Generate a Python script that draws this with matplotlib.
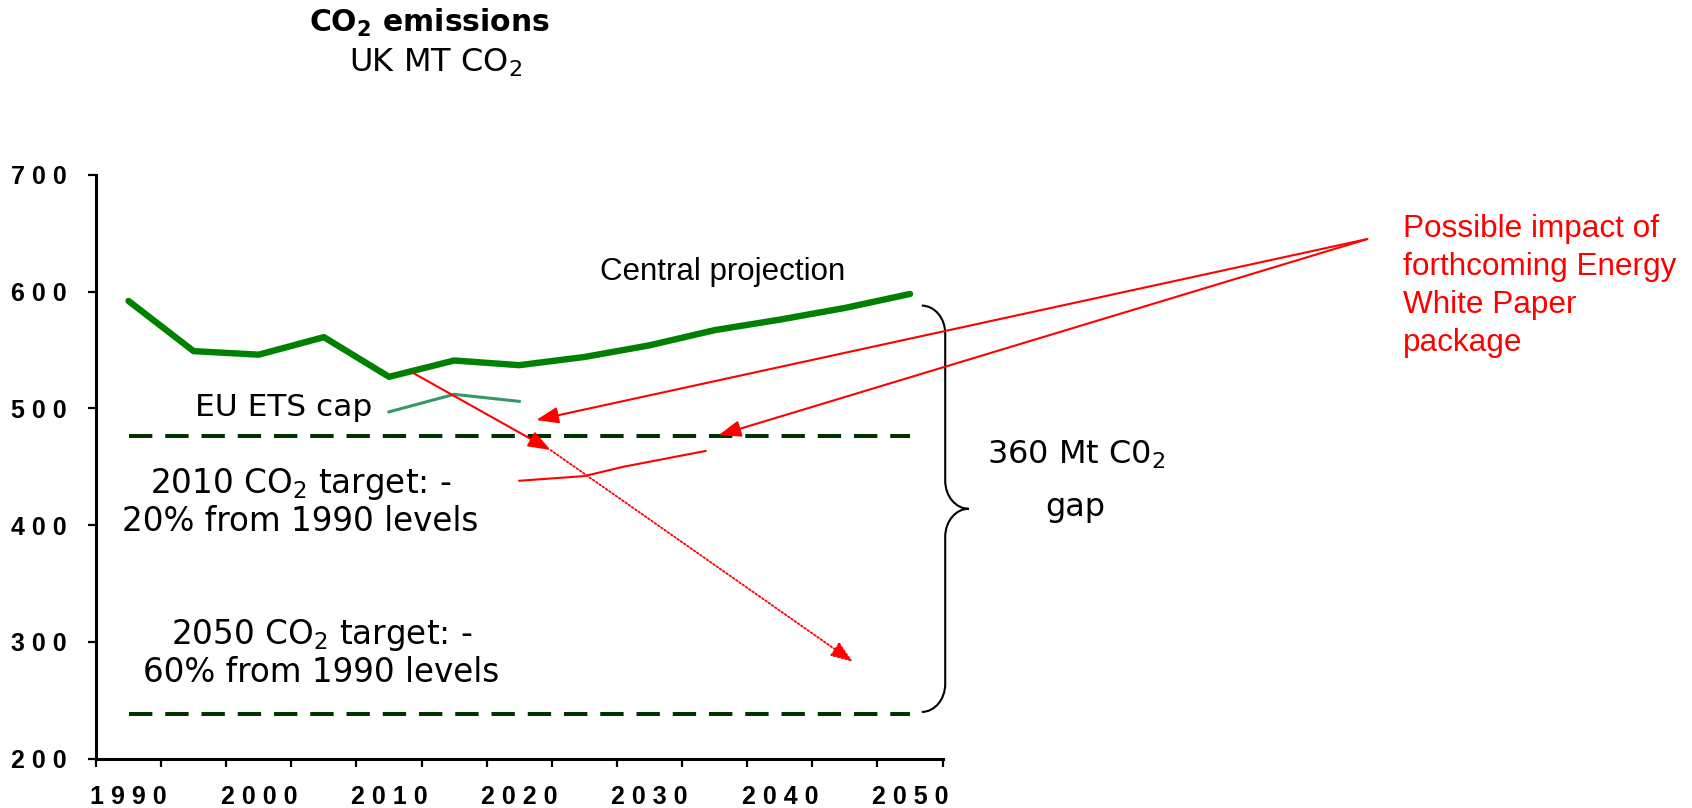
import matplotlib
matplotlib.use('Agg')
import matplotlib.pyplot as plt
import numpy as np
from matplotlib.path import Path
from matplotlib.patches import PathPatch

# UK CO2 emissions, Mt CO2
years = [1990, 1995, 2000, 2005, 2010, 2015, 2020, 2025, 2030, 2035, 2040, 2045, 2050]
central = [592, 549, 546, 561, 527, 541, 537, 544, 554, 567, 576, 586, 598]

ets_years = [2010, 2015, 2020]
ets_cap = [497, 512, 506]

target_2010 = 476
target_2050 = 238

# possible trajectory with the Energy White Paper package
impact_years = [2020, 2025, 2028, 2034.3]
impact_values = [438, 442, 450, 463.5]

x_labels = [1990, 2000, 2010, 2020, 2030, 2040, 2050]
y_ticks = [200, 300, 400, 500, 600, 700]

impact_text = ['Possible impact of', 'forthcoming Energy', 'White Paper', 'package']

RED = '#ff0000'
SANS = ['Liberation Sans', 'DejaVu Sans']


def brace(ax, x_tail, x_mid, x_tip, y_top, y_bot, r):
    # curly brace pointing right, built from quarter-ellipse beziers
    c = 0.552
    y_c = (y_top + y_bot) / 2
    dx = x_mid - x_tail
    dt = x_tip - x_mid
    verts = [
        (x_tail, y_top),
        (x_tail + c * dx, y_top), (x_mid, y_top - r + c * r), (x_mid, y_top - r),
        (x_mid, y_c + r),
        (x_mid, y_c + r - c * r), (x_tip - c * dt, y_c), (x_tip, y_c),
        (x_tip - c * dt, y_c), (x_mid, y_c - r + c * r), (x_mid, y_c - r),
        (x_mid, y_bot + r),
        (x_mid, y_bot + r - c * r), (x_tail + c * dx, y_bot), (x_tail, y_bot),
    ]
    codes = ([Path.MOVETO] + [Path.CURVE4] * 3 + [Path.LINETO] + [Path.CURVE4] * 6
             + [Path.LINETO] + [Path.CURVE4] * 3)
    patch = PathPatch(Path(verts, codes), fill=False, edgecolor='black', lw=1.5,
                      transform=ax.transData, clip_on=False)
    ax.add_patch(patch)


def spaced(v):
    # letter-spaced tick labels: "1 9 9 0"
    return ' '.join(str(v))


fig = plt.figure(figsize=(16.92, 8.08), dpi=100)
ax = fig.add_axes([0.0567, 0.0611, 0.5004, 0.7225])

ax.set_xlim(1987.5, 2052.5)
ax.set_ylim(200, 700)

# target lines
dash = (0, (5.8, 3.2))
ax.plot([years[0], years[-1]], [target_2010, target_2010], color='#003300', lw=2.9, ls=dash,
        dash_capstyle='butt', zorder=2)
ax.plot([years[0], years[-1]], [target_2050, target_2050], color='#003300', lw=2.9, ls=dash,
        dash_capstyle='butt', zorder=2)

ax.plot(years, central, color='#008000', lw=4.6, solid_capstyle='round', zorder=3)
ax.plot(ets_years, ets_cap, color='#339966', lw=2.2, zorder=3)
ax.plot(impact_years, impact_values, color=RED, lw=1.5, zorder=4)

head = '-|>,head_length=1.35,head_width=0.5'
ax.annotate('', xy=(2022.4, 464.3), xytext=(2011.9, 530),
            arrowprops=dict(arrowstyle=head, color=RED, lw=1.5, shrinkA=0, shrinkB=0),
            zorder=5)
ax.annotate('', xy=(2045.6, 283), xytext=(2022.4, 464.3),
            arrowprops=dict(arrowstyle=head, color=RED, lw=1.3, ls=(0, (1, 1.2)),
                            shrinkA=0, shrinkB=0),
            zorder=5)

impact_src = (2085.1, 645)
for tip in [(2021.3, 490), (2035.3, 477)]:
    ax.annotate('', xy=tip, xytext=impact_src, annotation_clip=False,
                arrowprops=dict(arrowstyle=head, color=RED, lw=1.5, shrinkA=0, shrinkB=0),
                zorder=5)

brace(ax, 2050.9, 2052.7, 2054.5, 588, 240, 24)

# labels on the chart
ax.text(2035.6, 610, 'Central projection', ha='center', va='baseline', fontsize=22.5,
        family=SANS)
ax.text(2001.9, 493.4, 'EU ETS cap', ha='center', va='baseline', fontsize=22.5)
ax.text(2003.2, 427.2, '2010 CO$_2$ target: -', ha='center', va='baseline', fontsize=23.5)
ax.text(2003.2, 395.2, '20% from 1990 levels', ha='center', va='baseline', fontsize=23.5)
ax.text(2004.8, 298.2, '2050 CO$_2$ target: -', ha='center', va='baseline', fontsize=23.5)
ax.text(2004.8, 265.9, '60% from 1990 levels', ha='center', va='baseline', fontsize=23.5)
ax.text(2062.8, 452.5, '360 Mt C0$_2$', ha='center', va='baseline', fontsize=23)
ax.text(2062.7, 407.5, 'gap', ha='center', va='baseline', fontsize=23)

for i, line in enumerate(impact_text):
    ax.text(2087.85, 647.0 - i * 32.6, line, ha='left', va='baseline', fontsize=22.7,
            color=RED, family=SANS)

fig.text(0.2541, 0.9604, r'CO$_\mathbf{2}$ emissions', ha='center', va='baseline',
         fontsize=21.5, fontweight='bold')
fig.text(0.2573, 0.9109, 'UK MT CO$_2$', ha='center', va='baseline', fontsize=23)

# axes styling
for side in ['top', 'right']:
    ax.spines[side].set_visible(False)
for side in ['left', 'bottom']:
    ax.spines[side].set_linewidth(2.2)
    ax.spines[side].set_color('black')

ax.tick_params(axis='x', which='major', direction='out', length=6, width=1.6)
ax.tick_params(axis='x', which='minor', length=0, pad=19, labelsize=18,
               labelfontfamily='Liberation Sans')
ax.tick_params(axis='y', direction='out', length=6, width=1.6, pad=15, labelsize=18,
               labelfontfamily='Liberation Sans')

ax.set_xticks(np.arange(1987.5, 2053, 5))
ax.set_xticklabels([])
ax.set_xticks(x_labels, minor=True)
ax.set_xticklabels([spaced(y) for y in x_labels], minor=True, fontweight='bold')
ax.set_yticks(y_ticks)
ax.set_yticklabels([spaced(v) for v in y_ticks], fontweight='bold')

fig.savefig('out.png', dpi=100)
